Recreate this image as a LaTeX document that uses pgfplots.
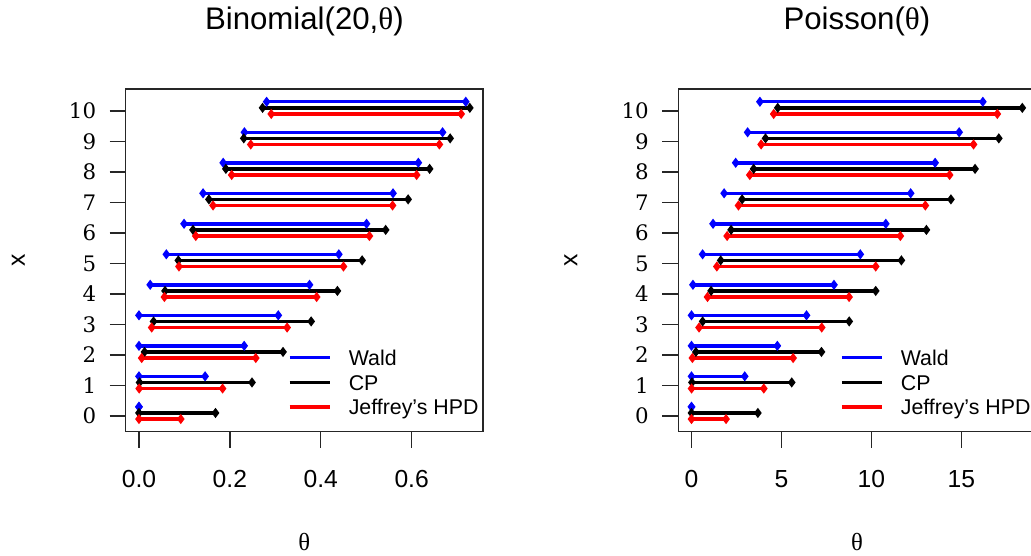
\documentclass[border=0pt]{standalone}
\usepackage{fontspec}
\setmainfont{Liberation Sans}
\newfontfamily\lserif{Liberation Serif}
\newfontfamily\dvserif{DejaVu Serif}
\usepackage{pgfplots}
\pgfplotsset{compat=1.18}
\definecolor{rblue}{RGB}{0,0,255}
\definecolor{rred}{RGB}{255,0,0}
\pgfplotsset{
  myaxis/.style={
    scale only axis, width=268pt, height=257pt,
    axis line style={line width=1pt, black!85},
    tick align=outside, major tick length=12pt,
    tick style={line width=1pt, black!85},
    xtick pos=lower, ytick pos=left,
    ymin=-0.516, ymax=10.716,
    ytick={0,1,2,3,4,5,6,7,8,9,10},
    /pgf/number format/assume math mode=true,
    yticklabel style={font={\dvserif\fontsize{16}{18}\selectfont}, anchor=east, inner sep=0pt, xshift=-10pt},
    xticklabel style={font={\fontsize{18.5}{22}\selectfont}, anchor=north, inner sep=0pt, yshift=-17pt},
    title style={at={(axis description cs:0.5,1.15)}, anchor=base, font={\fontsize{23.4}{27}\selectfont}},
    xlabel style={at={(axis description cs:0.5,-0.348)}, anchor=base, font={\lserif\fontsize{18.5}{22}\selectfont}},
    ylabel style={at={(axis description cs:-0.3006,0.5)}, anchor=center, font={\fontsize{18.5}{22}\selectfont}},
    xlabel={θ}, ylabel={x},
    unbounded coords=jump,
    legend cell align=left,
    legend image code/.code={\draw[line width=2.6pt] (0pt,1.65pt) -- (30pt,1.65pt);},
    legend style={draw=none, fill=none, inner sep=0pt, row sep=0pt, column sep=13pt,
      anchor=north west,
      nodes={inner sep=0pt, text height=13.3pt, text depth=5.2pt, font={\fontsize{16}{19}\selectfont}}},
  },
  intv/.style={line width=2.6pt, mark=diamond*, mark size=1.7pt, mark options={solid}},
}
\begin{document}
\begin{tikzpicture}
\begin{axis}[myaxis, at={(94.3pt,-323.8pt)}, anchor=south west,
  xmin=-0.02912, xmax=0.7571,
  xtick={0,0.2,0.4,0.6}, xticklabels={0.0,0.2,0.4,0.6},
  title={Binomial(20,{\lserif θ})},
  legend style={at={(axis description cs:0.4534,0.2463)}}]
\addplot[intv, rblue] coordinates {
 (0,0.3) (0,0.3) (nan,nan)
 (0,1.3) (0.1455,1.3) (nan,nan)
 (0,2.3) (0.2315,2.3) (nan,nan)
 (0,3.3) (0.3065,3.3) (nan,nan)
 (0.0247,4.3) (0.3753,4.3) (nan,nan)
 (0.0602,5.3) (0.4398,5.3) (nan,nan)
 (0.0992,6.3) (0.5008,6.3) (nan,nan)
 (0.1410,7.3) (0.5590,7.3) (nan,nan)
 (0.1853,8.3) (0.6147,8.3) (nan,nan)
 (0.2320,9.3) (0.6680,9.3) (nan,nan)
 (0.2809,10.3) (0.7191,10.3)
};
\addlegendentry{Wald}
\addplot[intv, black] coordinates {
 (0,0.1) (0.1684,0.1) (nan,nan)
 (0.0013,1.1) (0.2487,1.1) (nan,nan)
 (0.0123,2.1) (0.3170,2.1) (nan,nan)
 (0.0321,3.1) (0.3789,3.1) (nan,nan)
 (0.0573,4.1) (0.4366,4.1) (nan,nan)
 (0.0866,5.1) (0.4910,5.1) (nan,nan)
 (0.1189,6.1) (0.5428,6.1) (nan,nan)
 (0.1539,7.1) (0.5922,7.1) (nan,nan)
 (0.1912,8.1) (0.6395,8.1) (nan,nan)
 (0.2306,9.1) (0.6847,9.1) (nan,nan)
 (0.2720,10.1) (0.7280,10.1)
};
\addlegendentry{CP}
\addplot[intv, rred] coordinates {
 (0,-0.1) (0.092,-0.1) (nan,nan)
 (0.0005,0.9) (0.184,0.9) (nan,nan)
 (0.006,1.9) (0.257,1.9) (nan,nan)
 (0.028,2.9) (0.326,2.9) (nan,nan)
 (0.056,3.9) (0.391,3.9) (nan,nan)
 (0.088,4.9) (0.450,4.9) (nan,nan)
 (0.125,5.9) (0.507,5.9) (nan,nan)
 (0.163,6.9) (0.558,6.9) (nan,nan)
 (0.204,7.9) (0.611,7.9) (nan,nan)
 (0.246,8.9) (0.661,8.9) (nan,nan)
 (0.291,9.9) (0.709,9.9)
};
\addlegendentry{Jeffrey's HPD}
\end{axis}
\begin{axis}[myaxis, at={(508.7pt,-323.8pt)}, anchor=south west,
  xmin=-0.7356, xmax=19.13,
  xtick={0,5,10,15}, xticklabels={0,5,10,15},
  title={Poisson({\lserif θ})},
  legend style={at={(axis description cs:0.452,0.2463)}}]
\addplot[intv, rblue] coordinates {
 (0,0.3) (0,0.3) (nan,nan)
 (0,1.3) (2.96,1.3) (nan,nan)
 (0,2.3) (4.772,2.3) (nan,nan)
 (0,3.3) (6.395,3.3) (nan,nan)
 (0.08,4.3) (7.92,4.3) (nan,nan)
 (0.617,5.3) (9.383,5.3) (nan,nan)
 (1.199,6.3) (10.801,6.3) (nan,nan)
 (1.814,7.3) (12.186,7.3) (nan,nan)
 (2.456,8.3) (13.544,8.3) (nan,nan)
 (3.12,9.3) (14.88,9.3) (nan,nan)
 (3.802,10.3) (16.198,10.3)
};
\addlegendentry{Wald}
\addplot[intv, black] coordinates {
 (0,0.1) (3.689,0.1) (nan,nan)
 (0.0253,1.1) (5.572,1.1) (nan,nan)
 (0.2422,2.1) (7.225,2.1) (nan,nan)
 (0.6186,3.1) (8.767,3.1) (nan,nan)
 (1.090,4.1) (10.242,4.1) (nan,nan)
 (1.623,5.1) (11.668,5.1) (nan,nan)
 (2.202,6.1) (13.059,6.1) (nan,nan)
 (2.814,7.1) (14.423,7.1) (nan,nan)
 (3.454,8.1) (15.763,8.1) (nan,nan)
 (4.115,9.1) (17.085,9.1) (nan,nan)
 (4.795,10.1) (18.390,10.1)
};
\addlegendentry{CP}
\addplot[intv, rred] coordinates {
 (0,-0.1) (1.92,-0.1) (nan,nan)
 (0.002,0.9) (4.02,0.9) (nan,nan)
 (0.05,1.9) (5.65,1.9) (nan,nan)
 (0.42,2.9) (7.24,2.9) (nan,nan)
 (0.89,3.9) (8.76,3.9) (nan,nan)
 (1.41,4.9) (10.24,4.9) (nan,nan)
 (1.98,5.9) (11.61,5.9) (nan,nan)
 (2.61,6.9) (13.00,6.9) (nan,nan)
 (3.24,7.9) (14.35,7.9) (nan,nan)
 (3.87,8.9) (15.68,8.9) (nan,nan)
 (4.57,9.9) (17.00,9.9)
};
\addlegendentry{Jeffrey's HPD}
\end{axis}
\pgfresetboundingbox
\useasboundingbox (0pt,0pt) rectangle (773.25pt,-417pt);
\end{tikzpicture}
\end{document}
